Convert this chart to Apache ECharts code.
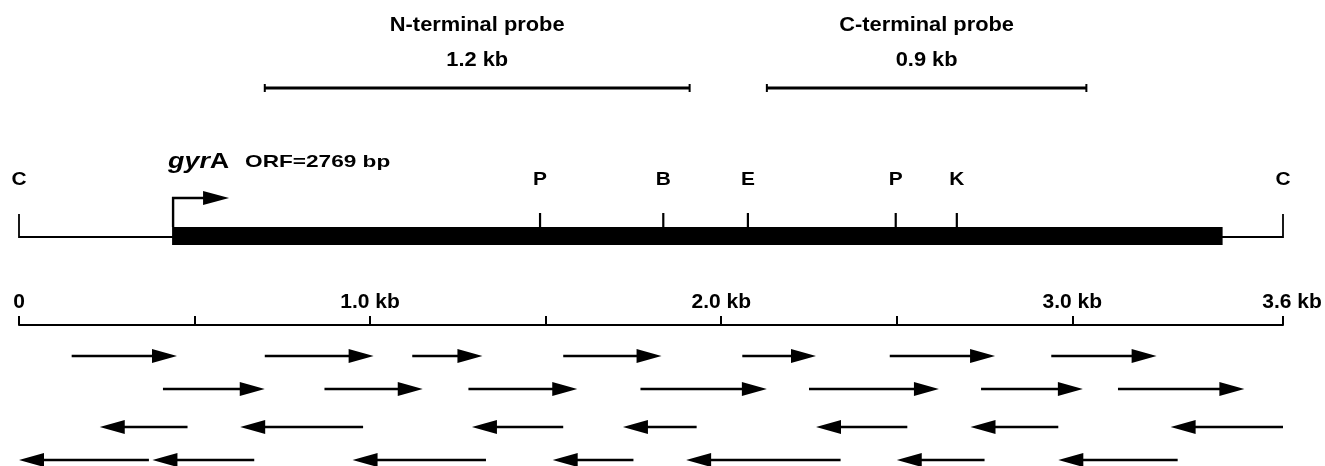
<!DOCTYPE html>
<html>
<head>
<meta charset="utf-8">
<script src="https://cdn.jsdelivr.net/npm/echarts@6/dist/echarts.min.js"></script>
<style>
  html, body { margin: 0; background: #fff; }
  #chart { width: 1325px; height: 466px; }
</style>
</head>
<body>
<div id="chart"></div>
<script>
// map extent (kb)
const mapLength = 3.6;

// hybridization probes
const probeNames = ["N-terminal probe", "C-terminal probe"];
const probeSizes = ["1.2 kb", "0.9 kb"];
const probeSpans = [[0.70, 1.91], [2.13, 3.04]];

// restriction sites
const siteLabels = ["P", "B", "E", "P", "K"];
const sitePositions = [1.484, 1.835, 2.076, 2.497, 2.671];
const endLabels = ["C", "C"];
const endPositions = [0, 3.6];

// gyrA coding region
const geneName = "gyr";
const geneSuffix = "A";
const orfLabel = "ORF=2769 bp";
const geneSpan = [0.436, 3.428];

// scale bar
const scaleTicks = [0, 0.5, 1, 1.5, 2, 2.5, 3, 3.6];
const scaleLabelValues = [0, 1, 2, 3, 3.6];
const scaleLabels = ["0", "1.0 kb", "2.0 kb", "3.0 kb", "3.6 kb"];

// sequencing runs [left kb, right kb], one array per row
const readsRow1 = [[0.15, 0.45], [0.70, 1.01], [1.12, 1.32], [1.55, 1.83], [2.06, 2.27], [2.48, 2.78], [2.94, 3.24]];
const readsRow2 = [[0.41, 0.70], [0.87, 1.15], [1.28, 1.59], [1.77, 2.13], [2.25, 2.62], [2.74, 3.03], [3.13, 3.49]];
const readsRow3 = [[0.23, 0.48], [0.63, 0.98], [1.29, 1.55], [1.72, 1.93], [2.27, 2.53], [2.71, 2.96], [3.28, 3.60]];
const readsRow4 = [[0.00, 0.37], [0.38, 0.67], [0.95, 1.33], [1.52, 1.75], [1.90, 2.34], [2.50, 2.75], [2.96, 3.30]];
const readRows = [readsRow1, readsRow2, readsRow3, readsRow4];
const readDirections = [1, 1, -1, -1];

// layout (px from top)
const FONT = 'Arial, "Liberation Sans", Helvetica, sans-serif';
const probeTitleY = 25;
const probeSizeY = 60;
const probeLineY = 88;
const labelY = 180;
const siteTickTop = 213;
const barTop = 227;
const barBottom = 245;
const backboneY = 237;
const endTickTop = 214;
const promoterY = 198;
const geneTextY = 162;
const readRowY = [356, 389, 427, 460];
const headLen = 25;
const headHalf = 7;

const chart = echarts.init(document.getElementById("chart"));

const xOf = (api, v) => api.coord([v, 0])[0];
const yOf = (api, v) => api.coord([0, v])[1];
const txt = (x, y, text, size, extra = {}) => ({
  type: "text",
  x, y,
  scaleX: extra.scaleX || 1,
  style: Object.assign({
    text,
    fill: "#000",
    fontSize: size,
    fontWeight: "bold",
    fontFamily: FONT,
    align: "center",
    verticalAlign: "middle",
  }, extra.style || {}),
});
const seg = (x1, y1, x2, y2, w) => ({
  type: "line",
  shape: { x1, y1, x2, y2 },
  style: { stroke: "#000", lineWidth: w, lineCap: "butt" },
});

const readData = [];
readRows.forEach((row, r) => {
  row.forEach(([a, b]) => {
    readData.push(readDirections[r] > 0 ? [a, b, r] : [b, a, r]);
  });
});

chart.setOption({
  animation: false,
  grid: { left: 19, right: 42, top: 0, bottom: 141 },
  xAxis: {
    type: "value",
    min: 0,
    max: mapLength,
    position: "bottom",
    axisLine: { show: true, onZero: false, lineStyle: { color: "#000", width: 2 } },
    axisTick: {
      show: true,
      inside: true,
      length: 9,
      customValues: scaleTicks,
      lineStyle: { color: "#000", width: 2 },
    },
    axisLabel: {
      show: true,
      inside: true,
      margin: 12,
      customValues: scaleLabelValues,
      formatter: (v) => {
        const label = scaleLabels[scaleLabelValues.indexOf(v)] || "";
        return v === mapLength ? "{end|" + label + "}" : label;
      },
      color: "#000",
      fontSize: 21,
      fontWeight: "bold",
      fontFamily: FONT,
      rich: {
        end: { fontSize: 21, fontWeight: "bold", fontFamily: FONT, color: "#000", padding: [0, 0, 0, 18] },
      },
    },
    splitLine: { show: false },
  },
  yAxis: { type: "value", min: 0, max: 325, inverse: true, show: false },
  series: [
    {
      // probes
      type: "custom",
      clip: false,
      silent: true,
      data: probeSpans.map((s, i) => [s[0], s[1], i]),
      renderItem: (params, api) => {
        const x1 = xOf(api, api.value(0));
        const x2 = xOf(api, api.value(1));
        const y = yOf(api, probeLineY);
        const i = api.value(2);
        const mid = (x1 + x2) / 2;
        return {
          type: "group",
          children: [
            seg(x1, y, x2, y, 2.8),
            seg(x1, y - 4, x1, y + 4, 2),
            seg(x2, y - 4, x2, y + 4, 2),
            txt(mid, yOf(api, probeTitleY), probeNames[i], 21, { scaleX: 1.04 }),
            txt(mid, yOf(api, probeSizeY), probeSizes[i], 21, { scaleX: 1.04 }),
          ],
        };
      },
    },
    {
      // backbone line
      type: "custom",
      clip: false,
      silent: true,
      data: [[0, mapLength]],
      renderItem: (params, api) => {
        const y = yOf(api, backboneY);
        return seg(xOf(api, api.value(0)), y, xOf(api, api.value(1)), y, 1.8);
      },
    },
    {
      // map ends (C)
      type: "custom",
      clip: false,
      silent: true,
      data: endPositions.map((p, i) => [p, i]),
      renderItem: (params, api) => {
        const x = xOf(api, api.value(0));
        return {
          type: "group",
          children: [
            seg(x, yOf(api, endTickTop), x, yOf(api, backboneY) + 0.9, 1.8),
            txt(x, yOf(api, labelY), endLabels[api.value(1)], 19, { scaleX: 1.1 }),
          ],
        };
      },
    },
    {
      // gyrA coding bar and promoter
      type: "custom",
      clip: false,
      silent: true,
      data: [[geneSpan[0], geneSpan[1]]],
      renderItem: (params, api) => {
        const x1 = xOf(api, api.value(0));
        const x2 = xOf(api, api.value(1));
        const yt = yOf(api, barTop);
        const yb = yOf(api, barBottom);
        const yp = yOf(api, promoterY);
        const gy = yOf(api, geneTextY);
        return {
          type: "group",
          children: [
            { type: "rect", shape: { x: x1, y: yt, width: x2 - x1, height: yb - yt }, style: { fill: "#000" } },
            { type: "polyline", shape: { points: [[x1 + 1, yt], [x1 + 1, yp], [x1 + 32, yp]] }, style: { stroke: "#000", lineWidth: 2.4, fill: null } },
            { type: "polygon", shape: { points: [[x1 + 31, yp - 7], [x1 + 57, yp], [x1 + 31, yp + 7]] }, style: { fill: "#000" } },
            {
              type: "text",
              x: x1 - 4,
              y: gy,
              scaleX: 1.22,
              style: {
                text: "{i|" + geneName + "}{n|" + geneSuffix + "}",
                align: "left",
                verticalAlign: "middle",
                rich: {
                  i: { fontSize: 22, fontStyle: "italic", fontWeight: "bold", fontFamily: FONT, fill: "#000" },
                  n: { fontSize: 22, fontWeight: "bold", fontFamily: FONT, fill: "#000" },
                },
              },
            },
            txt(x1 + 73, gy, orfLabel, 17, { scaleX: 1.33, style: { align: "left" } }),
          ],
        };
      },
    },
    {
      // restriction sites
      type: "custom",
      clip: false,
      silent: true,
      data: sitePositions.map((p, i) => [p, i]),
      renderItem: (params, api) => {
        const x = xOf(api, api.value(0));
        return {
          type: "group",
          children: [
            seg(x, yOf(api, siteTickTop), x, yOf(api, barTop) + 1, 2.2),
            txt(x, yOf(api, labelY), siteLabels[api.value(1)], 19, { scaleX: 1.1 }),
          ],
        };
      },
    },
    {
      // sequencing arrows
      type: "custom",
      clip: false,
      silent: true,
      data: readData,
      renderItem: (params, api) => {
        const from = xOf(api, api.value(0));
        const to = xOf(api, api.value(1));
        const y = yOf(api, readRowY[api.value(2)]);
        const dir = to > from ? 1 : -1;
        const base = to - dir * headLen;
        return {
          type: "group",
          children: [
            seg(from, y, base + dir, y, 2.6),
            { type: "polygon", shape: { points: [[base, y - headHalf], [to, y], [base, y + headHalf]] }, style: { fill: "#000" } },
          ],
        };
      },
    },
  ],
});
</script>
</body>
</html>
